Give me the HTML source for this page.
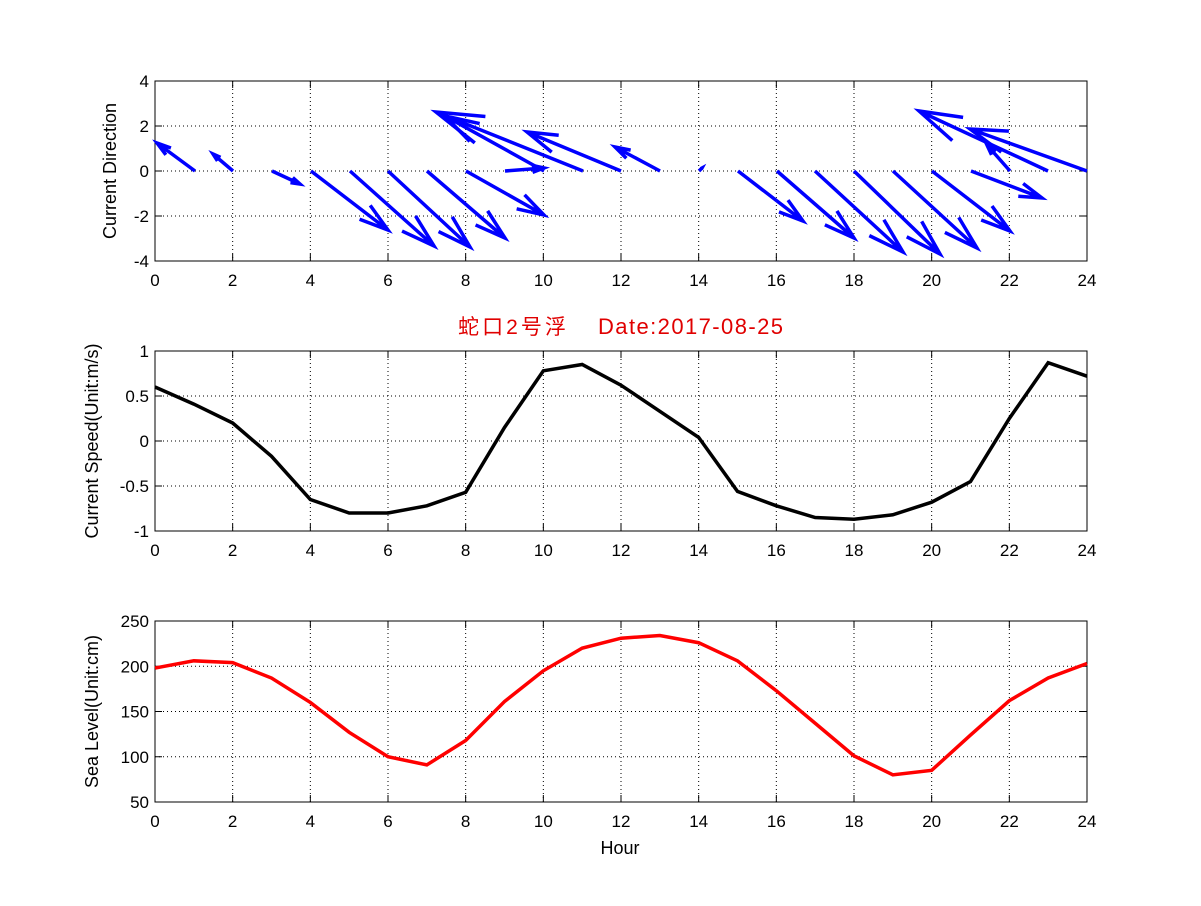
<!DOCTYPE html>
<html><head><meta charset="utf-8"><style>
body{margin:0;background:#fff}
text{font-family:"Liberation Sans","Noto Sans CJK SC",sans-serif;font-size:17px;fill:#000}
</style></head><body>
<svg id="s" width="1201" height="901" xmlns="http://www.w3.org/2000/svg"></svg>
<script>
const s=document.getElementById('s');let h='';
const X0=155,X1=1087,xs=h_=>X0+(X1-X0)*h_/24;
function axes(yt,yb,vmin,vmax,ticks,lab,ylab,name){
 const ys=v=>yb-(v-vmin)/(vmax-vmin)*(yb-yt);
 for(let k=0;k<=24;k+=2){const x=xs(k);
  if(k>0&&k<24)h+=`<line x1="${x}" y1="${yt}" x2="${x}" y2="${yb}" stroke="#000" stroke-width="1" stroke-dasharray="1,3"/>`;
  h+=`<line x1="${x}" y1="${yb}" x2="${x}" y2="${yb-7}" stroke="#000"/><line x1="${x}" y1="${yt}" x2="${x}" y2="${yt+7}" stroke="#000"/>`;
  h+=`<text x="${x}" y="${yb+25}" text-anchor="middle">${k}</text>`;}
 ticks.forEach((v,i)=>{const y=ys(v);
  if(v>vmin&&v<vmax)h+=`<line x1="${X0}" y1="${y}" x2="${X1}" y2="${y}" stroke="#000" stroke-dasharray="1,3"/>`;
  h+=`<line x1="${X0}" y1="${y}" x2="${X0+7}" y2="${y}" stroke="#000"/><line x1="${X1}" y1="${y}" x2="${X1-7}" y2="${y}" stroke="#000"/>`;
  h+=`<text x="${X0-6}" y="${y+6}" text-anchor="end">${lab[i]}</text>`;});
 h+=`<rect x="${X0}" y="${yt}" width="${X1-X0}" height="${yb-yt}" fill="none" stroke="#000"/>`;
 h+=`<text transform="translate(${ylab},${(yt+yb)/2}) rotate(-90)" text-anchor="middle" style="font-size:18px">${name}</text>`;
 return ys;}
axes(81,261,-4,4,[-4,-2,0,2,4],['-4','-2','0','2','4'],116,'Current Direction');
const arr=[[195,157,143],[233,213,154],[272,300,184],[311,388,230],[350,434,246],[388,470,247],[427,505,238],[466,544,215],[505,544,168],[544,445,116],[583,436,112],[621,527,132],[660,615,147],[699,702,168],[738,803,221],[777,854,238],[815,903,252],[854,940,254],[893,977,248],[932,1010,231],[971,1042,198],[1010,987,145],[1048,919,111],[1087,970,129]];
arr.forEach(a=>{const x0=a[0],y0=171,x1=a[1],y1=a[2],u=x1-x0,v=y1-y0;
 const bx=x1-0.3*u,by=y1-0.3*v,px=-v*0.3*0.3,py=u*0.3*0.3;
 h+=`<path d="M${x0} ${y0}L${x1} ${y1}M${bx+px} ${by+py}L${x1} ${y1}L${bx-px} ${by-py}" stroke="#0000ff" stroke-width="3.5" fill="none"/>`;});
const sp=[0.6,0.41,0.2,-0.17,-0.65,-0.8,-0.8,-0.72,-0.57,0.15,0.78,0.85,0.62,0.33,0.04,-0.56,-0.72,-0.85,-0.87,-0.82,-0.68,-0.45,0.25,0.87,0.72];
let ys=axes(351,531,-1,1,[-1,-0.5,0,0.5,1],['-1','-0.5','0','0.5','1'],98,'Current Speed(Unit:m/s)');
h+=`<polyline fill="none" stroke="#000" stroke-width="3.5" points="${sp.map((v,i)=>xs(i)+','+ys(v)).join(' ')}"/>`;
const sl=[198,206,204,187,160,127,100,91,118,161,195,220,231,234,226,206,173,137,101,80,85,124,162,187,203];
ys=axes(621,802,50,250,[50,100,150,200,250],['50','100','150','200','250'],98,'Sea Level(Unit:cm)');
h+=`<polyline fill="none" stroke="#ff0000" stroke-width="3.5" points="${sl.map((v,i)=>xs(i)+','+ys(v)).join(' ')}"/>`;
h+=`<text x="620" y="854" text-anchor="middle" style="font-size:18px">Hour</text>`;
h+=`<text x="458" y="334" style="font-size:21px;fill:#e00000" textLength="108">蛇口2号浮</text>`;
h+=`<text x="598" y="334" style="font-size:22px;fill:#e00000" textLength="185">Date:2017-08-25</text>`;
s.innerHTML=h;
</script>
</body></html>
